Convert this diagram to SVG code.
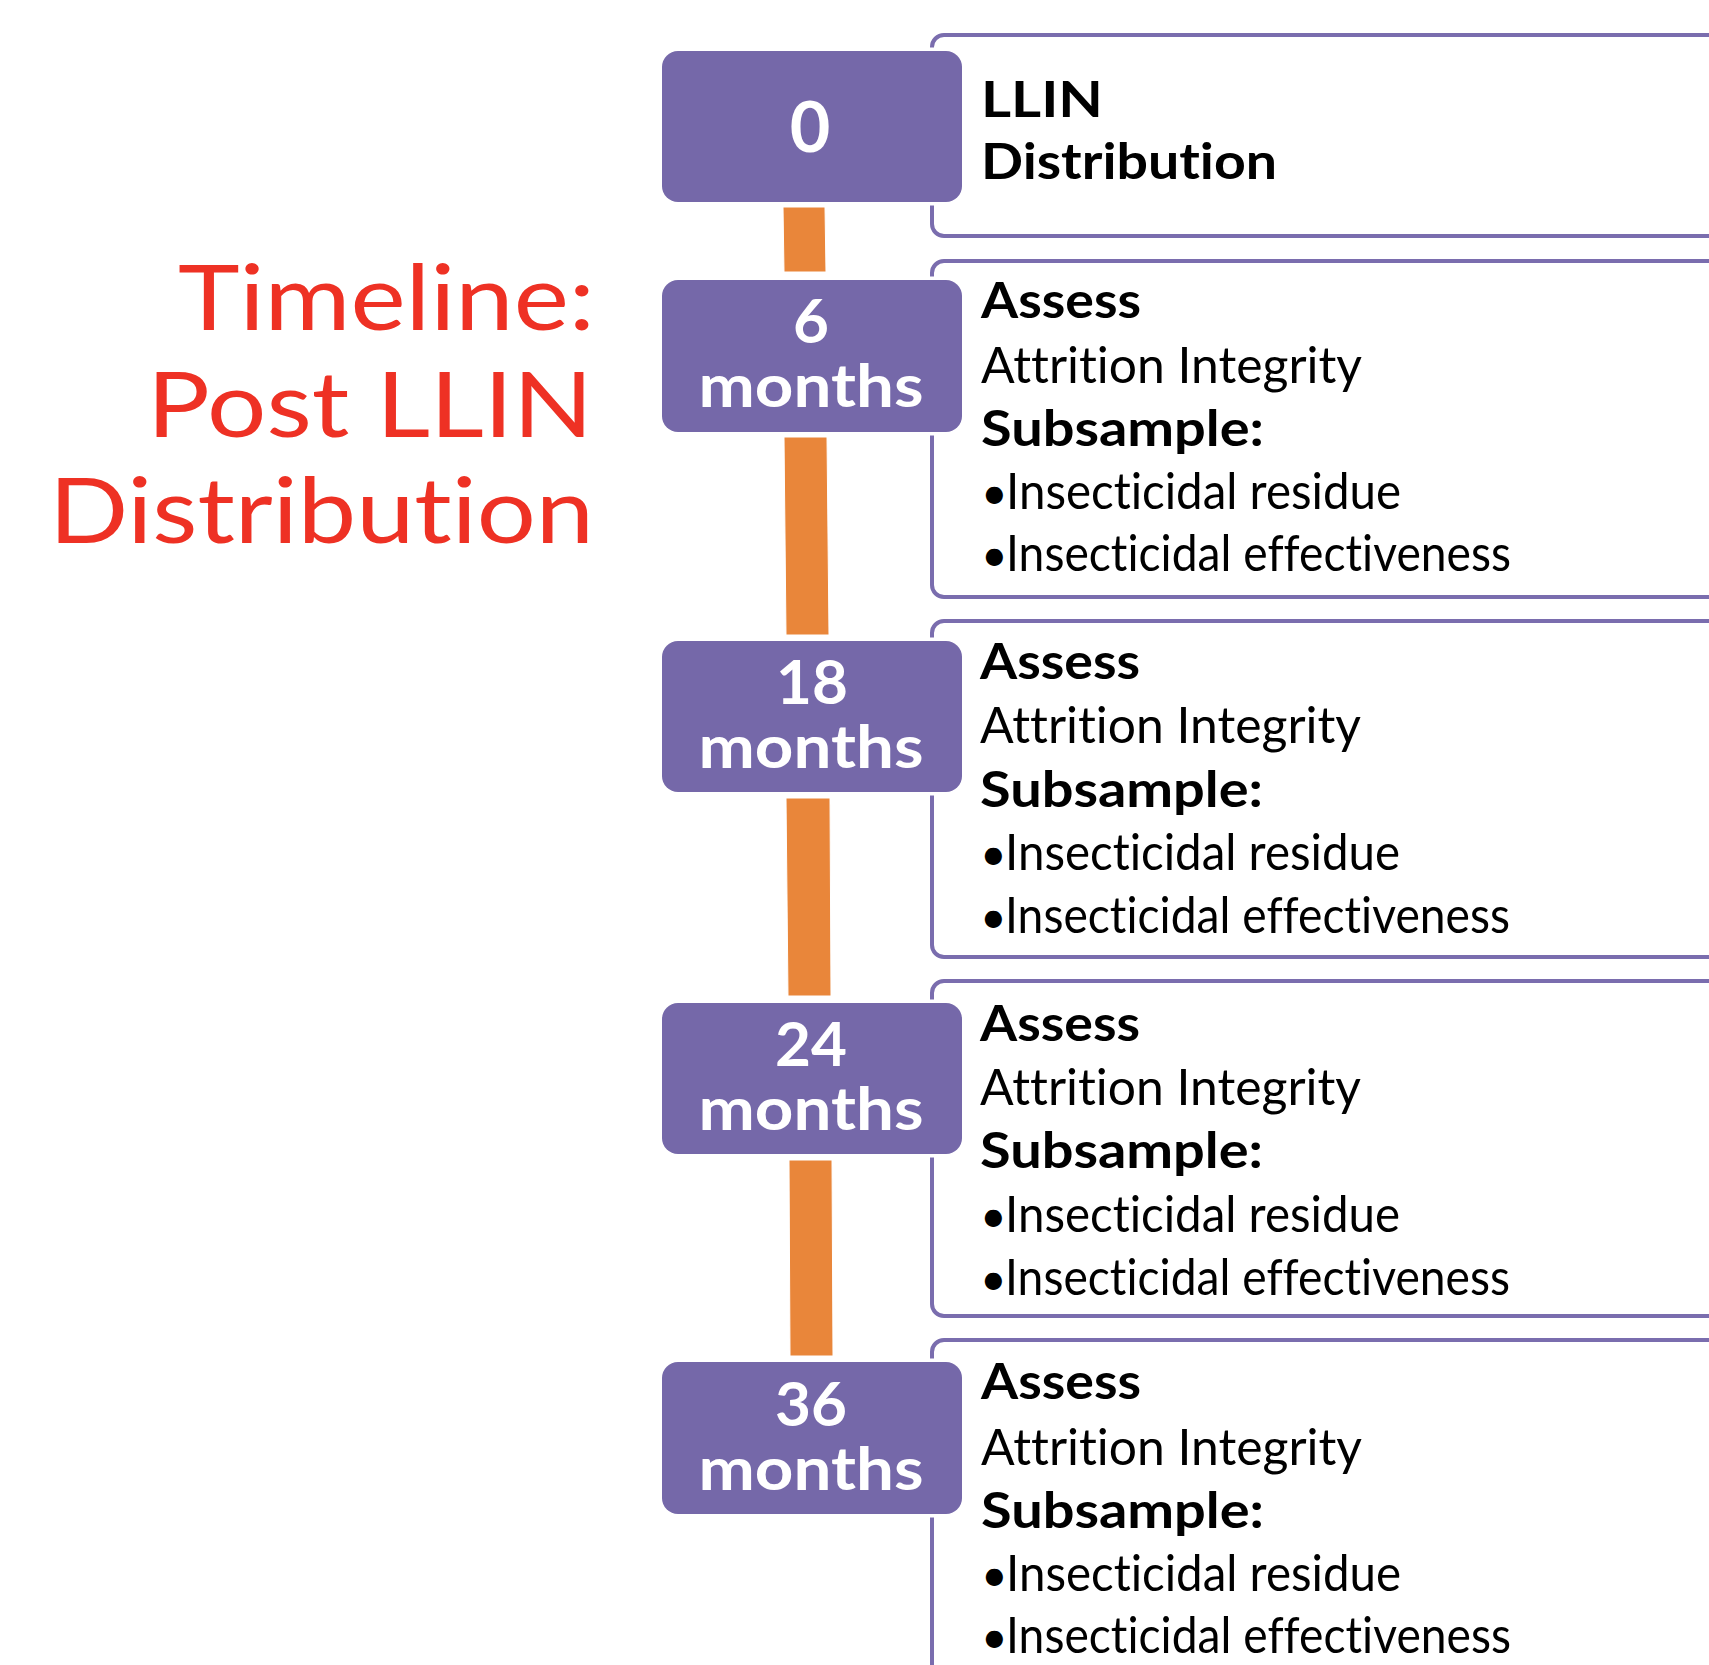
<svg xmlns="http://www.w3.org/2000/svg" width="1709" height="1665" viewBox="0 0 1709 1665">
<style>
text{font-variant-ligatures:none;font-feature-settings:"liga" 0,"clig" 0,"dlig" 0}
.panel{fill:#fff;stroke:#7A6DAE;stroke-width:4}
.tag{fill:#7568A9;stroke:#fff;stroke-width:7;paint-order:stroke}
.bar{fill:#E9863A;stroke:#fff;stroke-width:1}
.num{font-family:Lato,"Open Sans",sans-serif;font-weight:700;fill:#fff;text-anchor:middle}
.b{font-family:Lato,"Open Sans",sans-serif;font-weight:700;fill:#000;font-size:50px}
.r{font-family:Lato,"Open Sans",sans-serif;font-weight:400;fill:#000;font-size:50px}
.bul{font-family:Lato,"Open Sans",sans-serif;font-weight:400;fill:#000;font-size:46px}
.title{font-family:Lato,"Open Sans",sans-serif;font-weight:400;fill:#EE3124;font-size:92px;text-anchor:end}
</style>
<rect width="1709" height="1665" fill="#fff"/>
<g id="title">
<text class="title" x="595" y="330" textLength="417" lengthAdjust="spacingAndGlyphs">Timeline:</text>
<text class="title" x="593" y="437" textLength="446" lengthAdjust="spacingAndGlyphs">Post LLIN</text>
<text class="title" x="594" y="543" textLength="545" lengthAdjust="spacingAndGlyphs">Distribution</text>
</g>
<g id="panels">
<rect id="panel-0" class="panel" x="932" y="35" width="900" height="201" rx="12"/>
<rect id="panel-6" class="panel" x="932" y="261" width="900" height="336" rx="12"/>
<rect id="panel-18" class="panel" x="932" y="621" width="900" height="336" rx="12"/>
<rect id="panel-24" class="panel" x="932" y="981" width="900" height="335" rx="12"/>
<rect id="panel-36" class="panel" x="932" y="1340" width="900" height="400" rx="12"/>
</g>
<g id="connectors">
<polygon class="bar" points="783,207 825,207 826,272 784,272"/>
<polygon class="bar" points="784,437 827,437 829,635 786,635"/>
<polygon class="bar" points="786,798 830,798 831,996 788,996"/>
<polygon class="bar" points="789,1160 832,1160 833,1356 790,1356"/>
</g>
<g id="node-0">
<rect class="tag" x="662" y="51" width="300" height="151" rx="16"/>
<text class="num" x="810" y="152" font-size="70">0</text>
<text class="b" x="981" y="117" font-size="52" textLength="122" lengthAdjust="spacingAndGlyphs">LLIN</text>
<text class="b" x="981" y="179" font-size="52" textLength="296" lengthAdjust="spacingAndGlyphs">Distribution</text>
</g>
<g id="node-6" transform="translate(0,280)">
<rect class="tag" x="662" y="0" width="300" height="152" rx="16"/>
<text class="num" font-size="62"><tspan x="811" y="63">6</tspan><tspan x="811" y="127" font-size="60" textLength="225" lengthAdjust="spacingAndGlyphs">months</tspan></text>
<text class="b" x="981" y="38" textLength="160" lengthAdjust="spacingAndGlyphs">Assess</text>
<text class="r" x="981" y="103" textLength="381" lengthAdjust="spacingAndGlyphs">Attrition Integrity</text>
<text class="b" x="981" y="166" textLength="283" lengthAdjust="spacingAndGlyphs">Subsample:</text>
<text class="bul" x="981" y="229">•</text><text class="r" x="1006" y="229" textLength="395" lengthAdjust="spacingAndGlyphs">Insecticidal residue</text>
<text class="bul" x="981" y="291">•</text><text class="r" x="1006" y="291" textLength="505" lengthAdjust="spacingAndGlyphs">Insecticidal effectiveness</text>
</g>
<g id="node-18" transform="translate(-1,641)">
<rect class="tag" x="663" y="0" width="300" height="151" rx="16"/>
<text class="num" font-size="62"><tspan x="813" y="63">18</tspan><tspan x="812" y="127" font-size="60" textLength="225" lengthAdjust="spacingAndGlyphs">months</tspan></text>
<text class="b" x="981" y="38" textLength="160" lengthAdjust="spacingAndGlyphs">Assess</text>
<text class="r" x="981" y="102" textLength="381" lengthAdjust="spacingAndGlyphs">Attrition Integrity</text>
<text class="b" x="981" y="166" textLength="283" lengthAdjust="spacingAndGlyphs">Subsample:</text>
<text class="bul" x="981" y="229">•</text><text class="r" x="1006" y="229" textLength="395" lengthAdjust="spacingAndGlyphs">Insecticidal residue</text>
<text class="bul" x="981" y="292">•</text><text class="r" x="1006" y="292" textLength="505" lengthAdjust="spacingAndGlyphs">Insecticidal effectiveness</text>
</g>
<g id="node-24" transform="translate(-1,1003)">
<rect class="tag" x="663" y="0" width="300" height="151" rx="16"/>
<text class="num" font-size="62"><tspan x="812" y="63">24</tspan><tspan x="812" y="127" font-size="60" textLength="225" lengthAdjust="spacingAndGlyphs">months</tspan></text>
<text class="b" x="981" y="38" textLength="160" lengthAdjust="spacingAndGlyphs">Assess</text>
<text class="r" x="981" y="102" textLength="381" lengthAdjust="spacingAndGlyphs">Attrition Integrity</text>
<text class="b" x="981" y="165" textLength="283" lengthAdjust="spacingAndGlyphs">Subsample:</text>
<text class="bul" x="981" y="229">•</text><text class="r" x="1006" y="229" textLength="395" lengthAdjust="spacingAndGlyphs">Insecticidal residue</text>
<text class="bul" x="981" y="292">•</text><text class="r" x="1006" y="292" textLength="505" lengthAdjust="spacingAndGlyphs">Insecticidal effectiveness</text>
</g>
<g id="node-36" transform="translate(0,1362)">
<rect class="tag" x="662" y="0" width="300" height="152" rx="16"/>
<text class="num" font-size="62"><tspan x="811" y="64">36</tspan><tspan x="811" y="128" font-size="60" textLength="225" lengthAdjust="spacingAndGlyphs">months</tspan></text>
<text class="b" x="981" y="37" textLength="160" lengthAdjust="spacingAndGlyphs">Assess</text>
<text class="r" x="981" y="103" textLength="381" lengthAdjust="spacingAndGlyphs">Attrition Integrity</text>
<text class="b" x="981" y="166" textLength="283" lengthAdjust="spacingAndGlyphs">Subsample:</text>
<text class="bul" x="981" y="229">•</text><text class="r" x="1006" y="229" textLength="395" lengthAdjust="spacingAndGlyphs">Insecticidal residue</text>
<text class="bul" x="981" y="291">•</text><text class="r" x="1006" y="291" textLength="505" lengthAdjust="spacingAndGlyphs">Insecticidal effectiveness</text>
</g>
</svg>
